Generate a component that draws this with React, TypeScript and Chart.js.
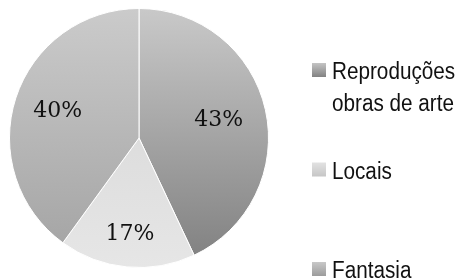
import React, { useEffect, useRef } from "react";
import { Chart, registerables } from "chart.js";

Chart.register(...registerables);

const categories = ["Reproduções\nobras de arte", "Locais", "Fantasia"];
const values = [43, 17, 40];
const valueLabels = ["43%", "17%", "40%"];

const sliceTop = ["#c9c9c9", "#d4d4d4", "#cbcbcb"];
const sliceBottom = ["#7f7f7f", "#e6e6e6", "#a2a2a2"];
const legendTop = ["#c4c4c4", "#e2e2e2", "#c8c8c8"];
const legendBottom = ["#828282", "#c6c6c6", "#9c9c9c"];
const labelRadius = [0.63, 0.75, 0.66];

const labelPlugin = {
  id: "valueLabels",
  afterDatasetsDraw(chart: any) {
    const ctx = chart.ctx;
    const meta = chart.getDatasetMeta(0);
    ctx.save();
    ctx.font = "22px 'DejaVu Serif'";
    ctx.fillStyle = "#111";
    ctx.textAlign = "center";
    ctx.textBaseline = "middle";
    meta.data.forEach((arc: any, i: number) => {
      const p = arc.getProps(["x", "y", "startAngle", "endAngle", "outerRadius"], true);
      const mid = (p.startAngle + p.endAngle) / 2;
      const r = p.outerRadius * labelRadius[i];
      ctx.fillText(valueLabels[i], p.x + Math.cos(mid) * r, p.y + Math.sin(mid) * r);
    });
    ctx.restore();
  },
};

const legendPlugin = {
  id: "customLegend",
  afterDraw(chart: any) {
    const ctx = chart.ctx;
    const area = chart.chartArea;
    const x0 = area.right + 43;
    const y0 = 63;
    const step = 99.5;
    const lineH = 32;
    const sx = 0.9;
    ctx.save();
    ctx.textAlign = "left";
    ctx.textBaseline = "alphabetic";
    categories.forEach((label, i) => {
      const top = y0 + i * step;
      const g = ctx.createLinearGradient(0, top, 0, top + 14);
      g.addColorStop(0, legendTop[i]);
      g.addColorStop(1, legendBottom[i]);
      ctx.fillStyle = g;
      ctx.fillRect(x0, top, 14, 14);
      label.split("\n").forEach((line, j) => {
        ctx.save();
        ctx.translate(x0 + 20, top + 16 + j * lineH);
        ctx.scale(sx, 1);
        ctx.font = "23px 'Liberation Sans'";
        ctx.fillStyle = "#111";
        ctx.fillText(line, 0, 0);
        ctx.restore();
      });
    });
    ctx.restore();
  },
};

export default function App() {
  const ref = useRef<HTMLCanvasElement>(null);
  useEffect(() => {
    if (!ref.current) return;
    const chart = new Chart(ref.current, {
      type: "pie",
      data: {
        labels: categories,
        datasets: [
          {
            data: values,
            backgroundColor: (c: any) => {
              const ch = c.chart;
              const a = ch.chartArea;
              const i = c.dataIndex ?? 0;
              if (!a) return sliceTop[i];
              const g = ch.ctx.createLinearGradient(0, a.top, 0, a.bottom);
              g.addColorStop(0, sliceTop[i]);
              g.addColorStop(1, sliceBottom[i]);
              return g;
            },
            borderColor: "#ffffff",
            borderWidth: 1,
          },
        ],
      },
      options: {
        animation: false,
        responsive: false,
        layout: { padding: { left: 9, top: 8, right: 194, bottom: 12 } },
        plugins: { legend: { display: false }, tooltip: { enabled: false } },
      },
      plugins: [labelPlugin, legendPlugin],
    });
    return () => chart.destroy();
  }, []);
  return (
    <div style={{ position: "fixed", left: 0, top: 0, width: 463, height: 280, background: "#fff" }}>
      <canvas ref={ref} width={463} height={280} style={{ display: "block" }} />
    </div>
  );
}
